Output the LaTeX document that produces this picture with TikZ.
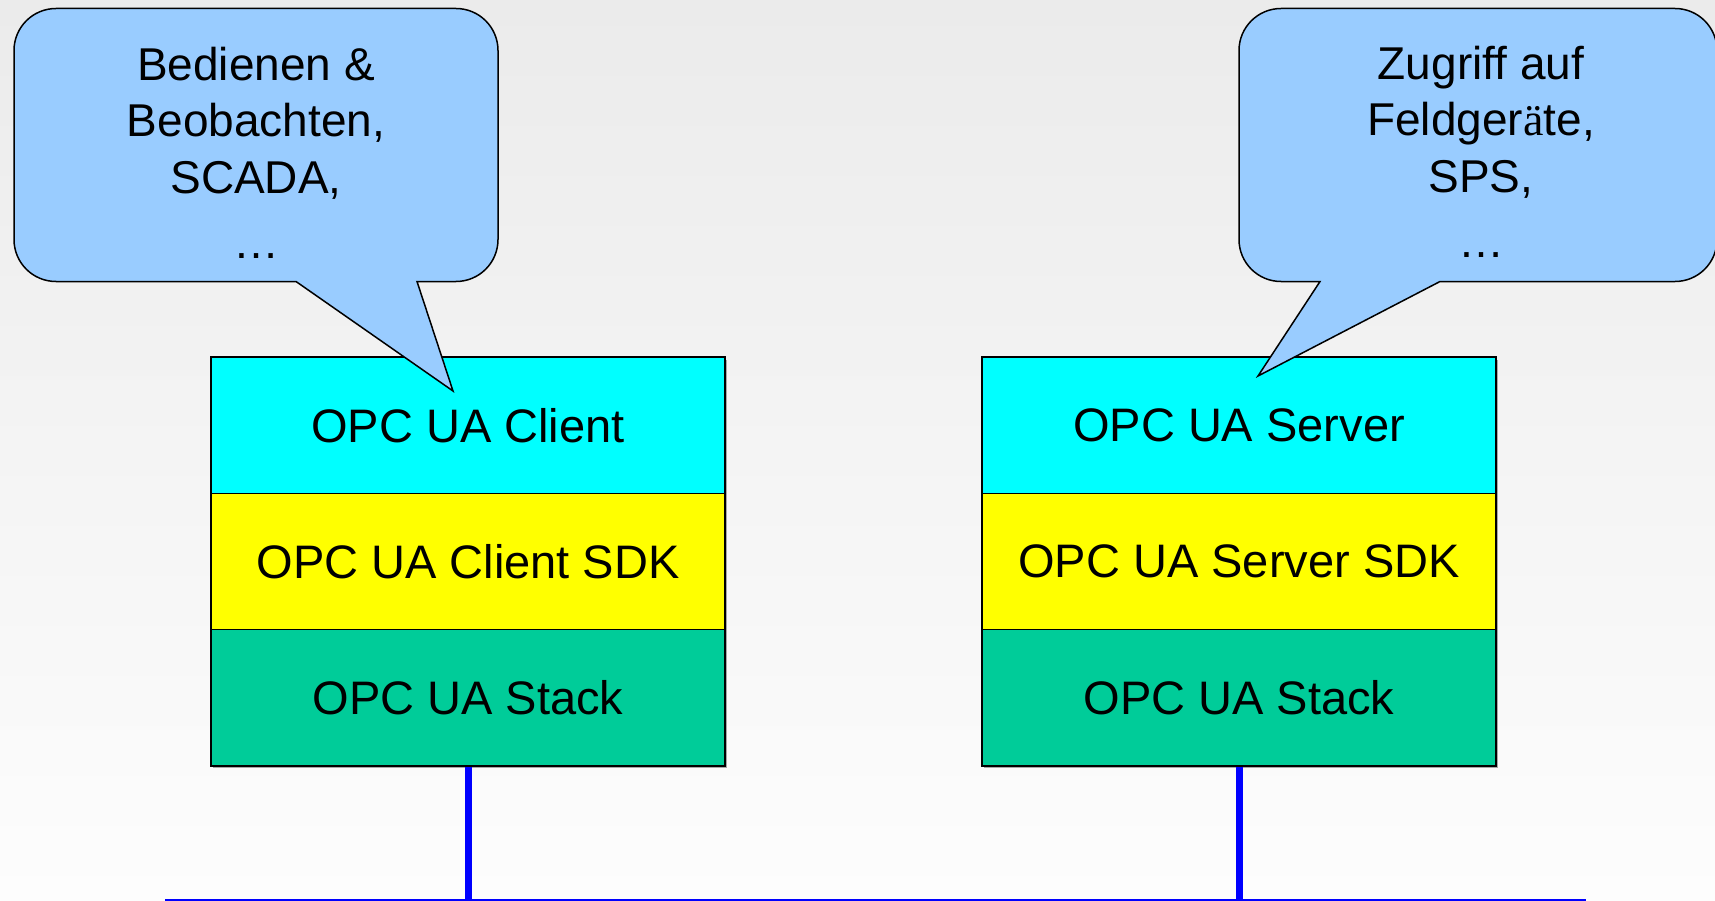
\documentclass[tikz,border=0pt]{standalone}
\usepackage{fontspec}
\setmainfont{Liberation Sans}
\newfontfamily\serifa{Liberation Serif}
\usetikzlibrary{calc}
\definecolor{bubble}{HTML}{99CCFF}
\definecolor{layerA}{HTML}{00FFFF}
\definecolor{layerB}{HTML}{FFFF00}
\definecolor{layerC}{HTML}{00CC99}
\definecolor{busblue}{HTML}{0000FF}
\definecolor{bgtop}{RGB}{235,235,235}
\definecolor{bgbot}{RGB}{253,253,253}
\pgfdeclarelayer{bg}
\pgfdeclarelayer{shadowlayer}
\pgfsetlayers{bg,shadowlayer,main}
\begin{document}
\begin{tikzpicture}[x=1pt,y=-1pt,
  layer/.style={draw=black, line width=1.5pt, minimum width=514pt, minimum height=136.3pt,
    inner sep=0pt, outer sep=0pt, font=\fontsize{47}{56}\selectfont},
  bubbleshape/.style={fill=bubble, draw=black, line width=1.5pt, line join=miter},
  bubbletext/.style={align=center, inner sep=0pt, font=\fontsize{46}{56.5}\selectfont, anchor=north},
  busline/.style={draw=busblue, line width=7pt},
  boxshadow/.style={fill=black!35}]
\useasboundingbox (0,0) rectangle (1715,901);
\clip (0,0) rectangle (1715,901);
\begin{pgfonlayer}{bg}
  \shade[top color=bgtop, bottom color=bgbot] (0,0) rectangle (1715,901);
\end{pgfonlayer}

% client stack
\node[layer, fill=layerA] (cclient) at (468,425.2) {OPC UA Client};
\node[layer, fill=layerB, anchor=north] (csdk) at (cclient.south) {OPC UA Client SDK};
\node[layer, fill=layerC, anchor=north] (cstack) at (csdk.south) {OPC UA Stack};

% server stack
\node[layer, fill=layerA] (sserver) at (1239,425.2) {OPC UA Server};
\node[layer, fill=layerB, anchor=north] (ssdk) at (sserver.south) {OPC UA Server SDK};
\node[layer, fill=layerC, anchor=north] (sstack) at (ssdk.south) {OPC UA Stack};

\begin{pgfonlayer}{shadowlayer}
  \fill[boxshadow] ([shift={(1.5,2.5)}]cclient.north west) rectangle ([shift={(1.5,2.5)}]cstack.south east);
  \fill[boxshadow] ([shift={(1.5,2.5)}]sserver.north west) rectangle ([shift={(1.5,2.5)}]sstack.south east);
\end{pgfonlayer}

% bus
\coordinate (busL) at (165,902.2);
\coordinate (busR) at (1586,902.2);
\begin{pgfonlayer}{shadowlayer}
\draw[busline] (cstack.south) -- (cstack.south |- busL);
\draw[busline] (sstack.south) -- (sstack.south |- busL);
\end{pgfonlayer}
\draw[busline] (busL) -- (busR);

% left callout
\draw[bubbleshape] (417,281.5) -- (456,281.5) arc[start angle=90, end angle=0, radius=42]
  -- (498,50.5) arc[start angle=0, end angle=-90, radius=42]
  -- (56,8.5) arc[start angle=-90, end angle=-180, radius=42]
  -- (14,239.5) arc[start angle=-180, end angle=-270, radius=42]
  -- (296,281.5) -- (453,391) -- cycle;
\node[bubbletext] (ctext) at (256,46.5) {Bedienen \&\\Beobachten,\\SCADA,\\[9pt]…};

% right callout
\draw[bubbleshape] (1440,281.5) -- (1675,281.5) arc[start angle=90, end angle=0, radius=42]
  -- (1717,50.5) arc[start angle=0, end angle=-90, radius=42]
  -- (1281,8.5) arc[start angle=-90, end angle=-180, radius=42]
  -- (1239,239.5) arc[start angle=-180, end angle=-270, radius=42]
  -- (1320,281.5) -- (1258,376) -- cycle;
\node[bubbletext] (stext) at (1481,45.5) {Zugriff auf\\Feldger{\serifa ä}te,\\SPS,\\[9pt]…};
\end{tikzpicture}
\end{document}
